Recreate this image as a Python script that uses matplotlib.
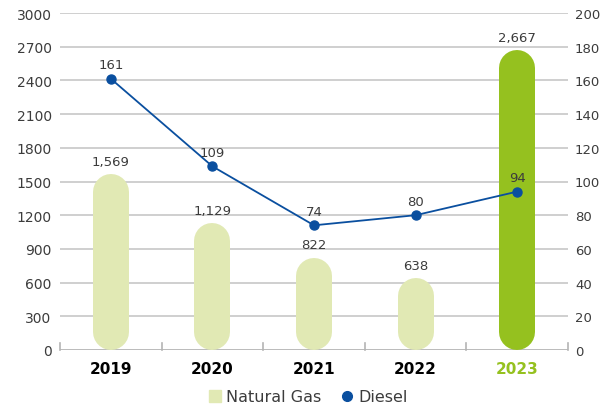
import matplotlib.pyplot as plt
from matplotlib.lines import Line2D

plt.rcParams['font.family'] = ['DejaVu Sans']

years = ["2019", "2020", "2021", "2022", "2023"]
natural_gas = [1569, 1129, 822, 638, 2667]
diesel = [161, 109, 74, 80, 94]

gas_light = "#e1e9b4"
gas_dark = "#95c11f"
diesel_col = "#0a4f9f"
grid_col = "#cbcbcb"
text_col = "#3c3c3c"

fig = plt.figure(figsize=(6.13, 4.10), dpi=100)
ax = fig.add_axes([60 / 613, 1 - 351 / 410, 508 / 613, 337 / 410])
ax2 = ax.twinx()

ax.set_xlim(-0.5, 4.5)
ax.set_ylim(0, 3000)
ax2.set_ylim(0, 200)

# horizontal grid
for t in range(300, 3001, 300):
    ax.axhline(t, color=grid_col, lw=1.3, zorder=0)

# pill bars: thick line with round caps, 36 px wide
bar_px = 36
lw_pt = bar_px * 72 / fig.dpi
r = (bar_px / 2) * 3000 / 337.0
for i, v in enumerate(natural_gas):
    col = gas_dark if i == len(natural_gas) - 1 else gas_light
    ax.plot([i, i], [r, v - r], color=col, lw=lw_pt,
            solid_capstyle="round", zorder=2)
    ax.text(i, v + 55, "{:,}".format(v), ha="center", va="bottom",
            fontsize=9.5, color=text_col)

ax2.plot(range(len(diesel)), diesel, color=diesel_col, lw=1.3,
         marker="o", ms=6.5, zorder=3)
for i, v in enumerate(diesel):
    ax2.text(i, v + 4.5, str(v), ha="center", va="bottom",
             fontsize=9.5, color=text_col)

# axes styling
for a in (ax, ax2):
    for s in ("top", "right", "left", "bottom"):
        a.spines[s].set_visible(False)
ax.axhline(0, color="#b4b4b4", lw=2, zorder=1)

ax.set_yticks(range(0, 3001, 300))
ax.tick_params(axis="y", length=0, labelsize=10, labelcolor=text_col, pad=6)
ax2.set_yticks(range(0, 201, 20))
ax2.tick_params(axis="y", length=0, labelsize=9.5, labelcolor=text_col, pad=5)

ax.set_xticks(range(len(years)))
ax.set_xticklabels(years, fontsize=11, fontweight="bold")
ax.tick_params(axis="x", length=0, pad=8)
for lab in ax.get_xticklabels():
    lab.set_color("black")
ax.get_xticklabels()[-1].set_color(gas_dark)
for b in [-0.5, 0.5, 1.5, 2.5, 3.5, 4.5]:
    ax.plot([b, b], [0, 65], color="#b4b4b4", lw=1.2, zorder=1, clip_on=False)

handles = [
    Line2D([], [], marker="s", ls="none", ms=9, color=gas_light, label="Natural Gas"),
    Line2D([], [], marker="o", ls="none", ms=7, color=diesel_col, label="Diesel"),
]
fig.legend(handles=handles, loc="center", bbox_to_anchor=(0.5, 1 - 398 / 410),
           ncol=2, frameon=False, fontsize=11.5, handletextpad=0.1,
           handlelength=1.2, columnspacing=1.0, labelcolor=text_col)

fig.savefig("out.png", dpi=100)
